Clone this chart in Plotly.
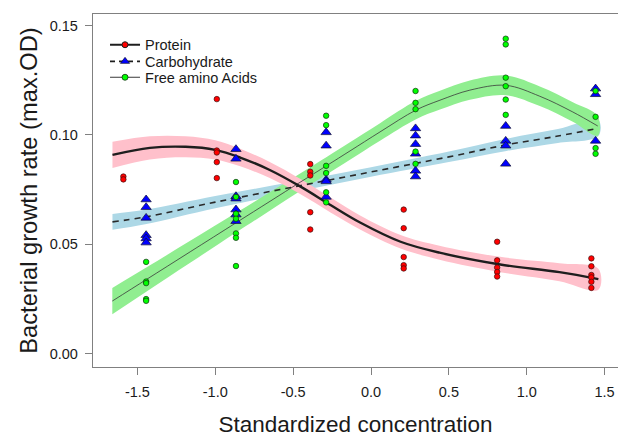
import plotly.graph_objects as go

# ---------------- raw observations ----------------
protein_x = [-1.59]*2 + [-0.99]*5 + [-0.39]*5 + [0.21]*5 + [0.81]*5 + [1.415]*6
protein_y = [0.081, 0.0797,
             0.1164, 0.0929, 0.092, 0.0876, 0.0803,
             0.0867, 0.0832, 0.0815, 0.0647, 0.0568,
             0.0659, 0.0574, 0.0442, 0.0405, 0.039,
             0.0512, 0.0427, 0.0394, 0.0374, 0.0353,
             0.0436, 0.040, 0.036, 0.0349, 0.0329, 0.0301]

carb_x = [-1.444]*6 + [-0.867]*7 + [-0.288]*5 + [0.286]*6 + [0.865]*4 + [1.442]*3
carb_y = [0.0705, 0.067, 0.0621, 0.0542, 0.0527, 0.0508,
          0.0935, 0.0891, 0.072, 0.0709, 0.0659, 0.0636, 0.0606,
          0.1012, 0.0951, 0.0795, 0.0788, 0.0717,
          0.103, 0.0997, 0.0958, 0.0914, 0.0836, 0.081,
          0.1041, 0.0973, 0.0951, 0.0868,
          0.1212, 0.1186, 0.0973]

faa_x = [-1.444]*5 + [-0.867]*7 + [-0.288]*6 + [0.286]*5 + [0.865]*6 + [1.442]*4
faa_y = [0.042, 0.033, 0.0323, 0.025, 0.0242,
         0.0785, 0.0717, 0.064, 0.0617, 0.055, 0.053, 0.0401,
         0.1088, 0.1045, 0.0859, 0.0826, 0.0738, 0.0692,
         0.1201, 0.1147, 0.1118, 0.0924, 0.0868,
         0.144, 0.1414, 0.1262, 0.1223, 0.1162, 0.1092,
         0.1201, 0.1083, 0.094, 0.0914]

# ---------------- fitted curves with confidence half-widths ----------------
protein_fit_x = [-1.66, -1.42, -1.19, -1.00, -0.84, -0.65, -0.455, -0.26, -0.07, 0.19, 0.44, 0.83, 1.21, 1.46]
protein_fit_y = [0.0909, 0.0941, 0.0946, 0.0932, 0.0897, 0.0840, 0.0765, 0.0680, 0.0600, 0.0512, 0.0462, 0.0408, 0.0373, 0.0341]
protein_half = [0.0060, 0.0053, 0.0048, 0.0044, 0.0040, 0.0037, 0.0035, 0.0034, 0.0032, 0.0031, 0.0032, 0.0035, 0.0041, 0.0048]

carb_fit_x = [-1.66, -1.45, -1.0, -0.5, 0.0, 0.5, 0.87, 1.2, 1.46]
carb_fit_y = [0.0603, 0.0625, 0.0693, 0.0762, 0.0831, 0.0900, 0.0955, 0.0995, 0.1031]
carb_half = [0.0036, 0.0033, 0.0028, 0.0024, 0.0022, 0.0024, 0.0028, 0.0032, 0.0036]

faa_fit_x = [-1.661, -1.443, -1.161, -0.866, -0.648, -0.455, -0.282, -0.135, 0.058, 0.289, 0.443, 0.635, 0.866, 1.084, 1.296, 1.456]
faa_fit_y = [0.0241, 0.0339, 0.0466, 0.0599, 0.0697, 0.0784, 0.0861, 0.0927, 0.1014, 0.1114, 0.1159, 0.1205, 0.1227, 0.1177, 0.1105, 0.1041]
faa_half = [0.0060, 0.0055, 0.0050, 0.0045, 0.0042, 0.0040, 0.0040, 0.0040, 0.0040, 0.0042, 0.0043, 0.0044, 0.0045, 0.0045, 0.0045, 0.0045]

x_ticks = [-1.5, -1.0, -0.5, 0.0, 0.5, 1.0, 1.5]
y_ticks = [0.00, 0.05, 0.10, 0.15]

FONT = "Liberation Sans, Arial, sans-serif"

fig = go.Figure()


def band(xs, ys, hw, color):
    upper = [y + h for y, h in zip(ys, hw)]
    lower = [y - h for y, h in zip(ys, hw)]
    fig.add_trace(go.Scatter(x=xs + xs[::-1], y=upper + lower[::-1], fill="toself",
                             fillcolor=color, line=dict(width=0, shape="spline"),
                             mode="lines", hoverinfo="skip", showlegend=False))


band(carb_fit_x, carb_fit_y, carb_half, "#ADD8E6")
band(faa_fit_x, faa_fit_y, faa_half, "#90EE90")
band(protein_fit_x, protein_fit_y, protein_half, "#FFC0CB")

fig.add_trace(go.Scatter(x=carb_fit_x, y=carb_fit_y, mode="lines",
                         line=dict(color="#2a2a2a", width=1.6, dash="6px,5px", shape="spline"),
                         showlegend=False))
fig.add_trace(go.Scatter(x=faa_fit_x, y=faa_fit_y, mode="lines",
                         line=dict(color="#3a3a3a", width=0.8, shape="spline"),
                         showlegend=False))
fig.add_trace(go.Scatter(x=protein_fit_x, y=protein_fit_y, mode="lines",
                         line=dict(color="#1e1e1e", width=2.4, shape="spline"),
                         showlegend=False))

fig.add_trace(go.Scatter(x=protein_x, y=protein_y, mode="markers", showlegend=False,
                         marker=dict(symbol="circle", size=5.5, color="#FF0000",
                                     line=dict(color="#3a1010", width=0.7))))
fig.add_trace(go.Scatter(x=carb_x, y=carb_y, mode="markers", showlegend=False,
                         marker=dict(symbol="triangle-up", size=9, color="#0000FF",
                                     line=dict(color="#101030", width=0.7))))
fig.add_trace(go.Scatter(x=faa_x, y=faa_y, mode="markers", showlegend=False,
                         marker=dict(symbol="circle", size=5.5, color="#00FF00",
                                     line=dict(color="#103010", width=0.7))))

# legend entries (one legend per entry so the rows can sit 16px apart)
fig.add_trace(go.Scatter(x=[None], y=[None], mode="lines+markers", name="Protein", legend="legend",
                         line=dict(color="#1e1e1e", width=2.2),
                         marker=dict(symbol="circle", size=6, color="#FF0000",
                                     line=dict(color="#1e1e1e", width=1))))
fig.add_trace(go.Scatter(x=[None], y=[None], mode="lines+markers", name="Carbohydrate", legend="legend2",
                         line=dict(color="#1e1e1e", width=1.6, dash="5px,4px"),
                         marker=dict(symbol="triangle-up", size=8, color="#0000FF",
                                     line=dict(color="#101030", width=0.7))))
fig.add_trace(go.Scatter(x=[None], y=[None], mode="lines+markers", name="Free amino Acids", legend="legend3",
                         line=dict(color="#3a3a3a", width=1),
                         marker=dict(symbol="circle", size=6, color="#00FF00",
                                     line=dict(color="#103010", width=0.8))))

axis_common = dict(showline=True, mirror=True, linecolor="#808080", linewidth=1.3,
                   ticks="outside", ticklen=7, tickcolor="#808080", tickwidth=1,
                   showgrid=False, zeroline=False,
                   tickfont=dict(family=FONT, size=14.5, color="#1a1a1a"))

legend_common = dict(x=0.0229, xanchor="left", yanchor="middle",
                     bgcolor="rgba(0,0,0,0)", borderwidth=0,
                     font=dict(family=FONT, size=14.5, color="#1a1a1a"),
                     itemwidth=30)

# the page body keeps an 8px margin, so the figure is sized 618x429
fig.update_layout(
    width=618, height=429,
    margin=dict(l=85, r=8, t=5, b=69),
    paper_bgcolor="white", plot_bgcolor="white",
    font=dict(family=FONT, color="#1a1a1a"),
    xaxis=dict(range=[-1.785, 1.586], tickvals=x_ticks,
               ticktext=[f"{v:.1f}" for v in x_ticks], ticklabelstandoff=4,
               title=dict(text="Standardized concentration", standoff=17,
                          font=dict(family=FONT, size=22.5, color="#1a1a1a")),
               **axis_common),
    yaxis=dict(range=[-0.00605, 0.1553], tickvals=y_ticks,
               ticktext=[f"{v:.2f}" for v in y_ticks], ticklabelstandoff=4,
               title=dict(text="Bacterial growth rate (max.OD)", standoff=5,
                          font=dict(family=FONT, size=23.7, color="#1a1a1a")),
               **axis_common),
    legend=dict(y=0.9127, **legend_common),
    legend2=dict(y=0.8656, **legend_common),
    legend3=dict(y=0.8206, **legend_common),
    showlegend=True,
)

fig.write_html("out.html")
